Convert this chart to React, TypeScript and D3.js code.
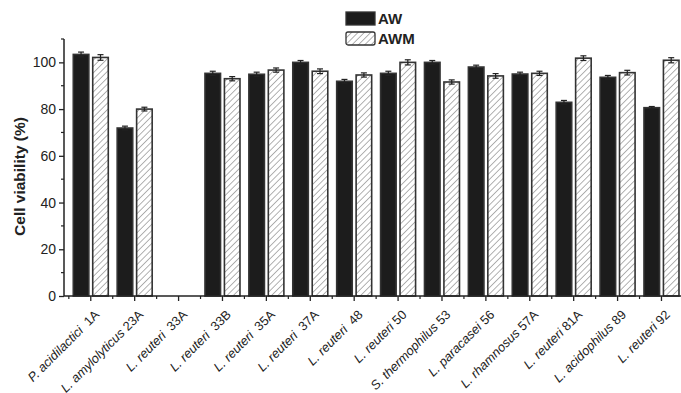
import React, { useEffect, useRef } from "react";
import * as d3 from "d3";

// strain names: [italic part, plain part]
const genus = [
  "P. acidilactici",
  "L. amylolyticus",
  "L. reuteri",
  "L. reuteri",
  "L. reuteri",
  "L. reuteri",
  "L. reuteri",
  "L. reuteri",
  "S. thermophilus",
  "L. paracasei",
  "L. rhamnosus",
  "L. reuteri",
  "L. acidophilus",
  "L. reuteri",
];
const strain = ["1A", "23A", "33A", "33B", "35A", "37A", "48", "50", "53", "56", "57A", "81A", "89", "92"];
const wideGap = [true, false, true, true, true, true, true, false, false, false, false, false, false, false];

const series = ["AW", "AWM"];
const aw = [103.4, 71.9, 0, 95.3, 94.9, 100.0, 91.9, 95.3, 100.0, 98.0, 95.0, 82.9, 93.6, 80.6];
const awm = [102.1, 80.0, 0, 93.0, 96.7, 96.2, 94.6, 100.0, 91.6, 94.2, 95.3, 101.8, 95.6, 100.9];
const awErr = [1.0, 0.8, 0, 0.9, 0.9, 0.8, 0.8, 0.9, 0.8, 0.8, 0.8, 0.8, 0.8, 0.5];
const awmErr = [1.2, 0.8, 0, 0.9, 0.9, 1.0, 0.9, 1.1, 0.9, 1.0, 0.9, 1.0, 1.0, 1.1];
const yTicks = [0, 20, 40, 60, 80, 100];
const yMinor = [10, 30, 50, 70, 90, 110];

const W = 681;
const H = 393;

const DrawChart = (element: any) => {
  d3.select(element).select("svg").remove();

  const svg = d3
    .select(element)
    .append("svg")
    .attr("width", W)
    .attr("height", H)
    .style("position", "absolute")
    .style("left", "0px")
    .style("top", "0px")
    .style("font-family", "'Liberation Sans', Arial, sans-serif");

  const defs = svg.append("defs");
  const pat = defs
    .append("pattern")
    .attr("id", "hatch")
    .attr("patternUnits", "userSpaceOnUse")
    .attr("width", 4.5)
    .attr("height", 4.5)
    .attr("patternTransform", "rotate(45)");
  pat.append("rect").attr("width", 4.5).attr("height", 4.5).attr("fill", "#fff");
  pat
    .append("line")
    .attr("x1", 0)
    .attr("y1", 0)
    .attr("x2", 0)
    .attr("y2", 4.5)
    .attr("stroke", "#555")
    .attr("stroke-width", 0.9);

  const left = 64;
  const base = 296;
  const top = 39;

  const labels = genus.map((g, i) => g + " " + strain[i]);

  const x = d3
    .scaleBand()
    .domain(labels)
    .range([left, left + 43.9 * 14.22])
    .paddingInner(0)
    .paddingOuter(0.11);
  const x1 = d3.scaleBand().domain(series).range([-17.5, 17.5]).paddingInner(0.2);
  const y = d3.scaleLinear().domain([0, 110]).range([base, top]);

  const cx = (i: number) => (x(labels[i]) as number) + x.bandwidth() / 2;

  // bars
  const data = labels.map((l, i) => ({ i, vals: [aw[i], awm[i]], errs: [awErr[i], awmErr[i]] }));
  data.forEach((d) => {
    series.forEach((s, k) => {
      const v = d.vals[k];
      if (v <= 0) return;
      const bx = cx(d.i) + (x1(s) as number);
      svg
        .append("rect")
        .attr("x", bx)
        .attr("y", y(v))
        .attr("width", x1.bandwidth())
        .attr("height", base - y(v))
        .attr("fill", k === 0 ? "#1c1c1c" : "url(#hatch)")
        .attr("stroke", "#333")
        .attr("stroke-width", 1.6);
      const mid = bx + x1.bandwidth() / 2;
      const e = d.errs[k];
      const g = svg.append("g").attr("stroke", "#222").attr("stroke-width", 1.2);
      g.append("line").attr("x1", mid).attr("x2", mid).attr("y1", y(v + e)).attr("y2", y(v - e));
      g.append("line").attr("x1", mid - 3).attr("x2", mid + 3).attr("y1", y(v + e)).attr("y2", y(v + e));
      g.append("line").attr("x1", mid - 3).attr("x2", mid + 3).attr("y1", y(v - e)).attr("y2", y(v - e));
    });
  });

  // y axis
  const yAxis = d3
    .axisLeft(y)
    .tickValues(yTicks)
    .tickSize(5)
    .tickPadding(3)
    .tickFormat((d: any) => String(d));
  const ya = svg.append("g").attr("transform", `translate(${left},0)`).call(yAxis);
  ya.select(".domain").remove();
  ya.selectAll("line").attr("stroke", "#222").attr("stroke-width", 1.3);
  ya.selectAll("text").attr("font-size", 14).attr("fill", "#222").attr("font-family", "'Liberation Sans', Arial, sans-serif");
  // minor y ticks
  yMinor.forEach((v) => {
    svg
      .append("line")
      .attr("x1", left - 3)
      .attr("x2", left)
      .attr("y1", y(v))
      .attr("y2", y(v))
      .attr("stroke", "#222")
      .attr("stroke-width", 1.2);
  });
  svg
    .append("line")
    .attr("x1", left)
    .attr("x2", left)
    .attr("y1", top)
    .attr("y2", base)
    .attr("stroke", "#222")
    .attr("stroke-width", 1.5);

  // x axis
  svg
    .append("line")
    .attr("x1", left)
    .attr("x2", W)
    .attr("y1", base)
    .attr("y2", base)
    .attr("stroke", "#222")
    .attr("stroke-width", 1.5);
  labels.forEach((l, i) => {
    const c = cx(i);
    svg
      .append("line")
      .attr("x1", c)
      .attr("x2", c)
      .attr("y1", base)
      .attr("y2", base + 5)
      .attr("stroke", "#222")
      .attr("stroke-width", 1.3);
    svg
      .append("line")
      .attr("x1", c - x.step() / 2)
      .attr("x2", c - x.step() / 2)
      .attr("y1", base)
      .attr("y2", base + 3)
      .attr("stroke", "#222")
      .attr("stroke-width", 1.2);
    const t = svg
      .append("text")
      .attr("transform", `translate(${c + 3},${base + 13}) rotate(-45)`)
      .attr("text-anchor", "end")
      .attr("dy", "0.7em")
      .attr("font-size", 12.8)
      .attr("fill", "#222");
    t.append("tspan").attr("font-style", "italic").text(genus[i]);
    t.append("tspan").text((wideGap[i] ? "\u00a0 " : " ") + strain[i]);
  });

  // y label
  svg
    .append("text")
    .attr("transform", `translate(25,${(115 + 238) / 2}) rotate(-90)`)
    .attr("text-anchor", "middle")
    .attr("font-size", 15.5)
    .attr("font-weight", "bold")
    .attr("fill", "#222")
    .text("Cell viability (%)");

  // legend
  const lg = svg.append("g").attr("transform", "translate(346,12)");
  series.forEach((s, k) => {
    lg.append("rect")
      .attr("x", 0)
      .attr("y", k * 20)
      .attr("width", 29)
      .attr("height", 13)
      .attr("rx", k === 1 ? 2 : 0)
      .attr("fill", k === 0 ? "#1c1c1c" : "url(#hatch)")
      .attr("stroke", "#333")
      .attr("stroke-width", 1.3);
    lg.append("text")
      .attr("x", 32)
      .attr("y", k * 20 + 12)
      .attr("font-size", 15)
      .attr("font-weight", "bold")
      .attr("fill", "#222")
      .text(s);
  });
};

export default function App() {
  const ref = useRef<HTMLDivElement>(null);
  useEffect(() => {
    DrawChart(ref.current);
  }, []);
  return <div ref={ref} style={{ width: W, height: H }} />;
}
